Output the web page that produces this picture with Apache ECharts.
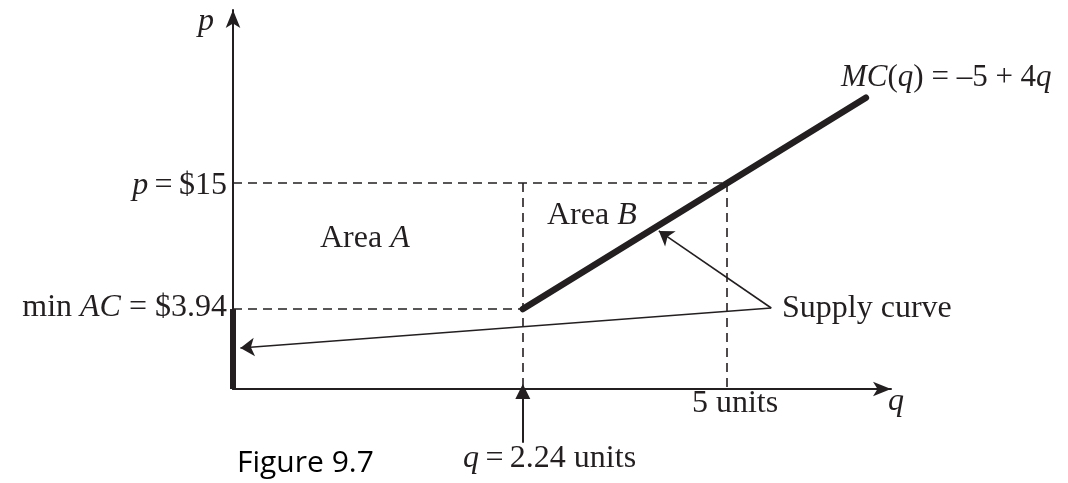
<!DOCTYPE html>
<html><head><meta charset="utf-8">
<script src="https://cdn.jsdelivr.net/npm/echarts@6/dist/echarts.min.js"></script>
<style>html,body{margin:0;padding:0;background:#fff}#c{width:1068px;height:483px}</style>
</head><body><div id="c"></div>
<script>
// ---- data ----
const qKink = 2.24;                 // q where MC = min AC
const qOutput = 5;                  // output at p = $15
const pMinAC = 3.94;                // min AC
const pPrice = 15;                  // market price
const mcSegment = [[2.24, 3.94], [6.88, 22.5]];   // MC(q) = -5 + 4q, drawn segment ends
const qRange = [-1.68, 7.22];       // schematic (broken) axis ranges
const pRange = [-3.08, 30.2];
// annotation arrows [from, to] in data units
const arrowToMC = [[5.6, 4.03], [4.08, 10.8]];
const arrowToBar = [[5.6, 4.03], [-1.58, 0.52]];
const arrowQ = [[2.24, -7.8], [2.24, -3.3]];

const INK = '#231f20';
const SERIF = "'Liberation Serif','Times New Roman',serif";
const FS = 32;

const chart = echarts.init(document.getElementById('c'), null, {renderer: 'canvas'});

const axisCommon = {
  type: 'value',
  axisLine: {show: true, onZero: false, symbol: ['none', 'arrow'], symbolSize: [11, 18],
             lineStyle: {color: INK, width: 2}},
  axisTick: {show: false}, axisLabel: {show: false}, splitLine: {show: false}
};

const dashes = [
  [[qRange[0], pPrice], [qOutput, pPrice]],
  [[qOutput, pPrice], [qOutput, pRange[0]]],
  [[qRange[0], pMinAC], [qKink, pMinAC]],
  [[qKink, pPrice], [qKink, pRange[0]]]
];

function mkRich(fs) {
  return {
    i: {fontStyle: 'italic', fontFamily: SERIF, fontSize: fs, fill: INK},
    n: {fontFamily: SERIF, fontSize: fs, fill: INK}
  };
}
function txt(x, y, text, align, fs) {
  fs = fs || FS;
  return {type: 'text', x: x, y: y, silent: true,
    style: {text: text, rich: mkRich(fs), font: fs + 'px ' + SERIF, fill: INK,
            align: align || 'left', verticalAlign: 'middle'}};
}

chart.setOption({
  animation: false,
  backgroundColor: '#fff',
  grid: {left: 233, right: 177, top: 10, bottom: 94},
  xAxis: Object.assign({}, axisCommon, {min: qRange[0], max: qRange[1]}),
  yAxis: Object.assign({}, axisCommon, {min: pRange[0], max: pRange[1]}),
  series: [
    {type: 'lines', coordinateSystem: 'cartesian2d', clip: false, silent: true,
     lineStyle: {color: INK, width: 1.6, type: [9, 6], opacity: 1},
     data: dashes.map(c => ({coords: c}))},
    {type: 'line', clip: false, silent: true, symbol: 'none',
     lineStyle: {color: INK, width: 6.5, cap: 'round'},
     data: mcSegment},
    {type: 'line', clip: false, silent: true, symbol: 'none',
     lineStyle: {color: INK, width: 6, cap: 'butt'},
     data: [[qRange[0], pRange[0]], [qRange[0], pMinAC]]},
    {type: 'lines', coordinateSystem: 'cartesian2d', clip: false, silent: true,
     symbol: ['none', 'arrow'], symbolSize: 14,
     lineStyle: {color: INK, width: 1.6, opacity: 1},
     data: [{coords: arrowToMC}, {coords: arrowToBar}]},
    {type: 'lines', coordinateSystem: 'cartesian2d', clip: false, silent: true,
     symbol: ['none', 'triangle'], symbolSize: 15,
     lineStyle: {color: INK, width: 2, opacity: 1},
     data: [{coords: arrowQ}]}
  ],
  graphic: [
    txt(206, 22, '{i|p}', 'center'),
    txt(841, 78, '{i|MC}{n|(}{i|q}{n|) = –5 + 4}{i|q}', 'left', 31),
    txt(227, 186, '{i|p}{n|\u2009=\u2009$15}', 'right'),
    txt(227, 308, '{n|min }{i|AC}{n| = $3.94}', 'right'),
    txt(320, 239, '{n|Area }{i|A}'),
    txt(547, 216, '{n|Area }{i|B}'),
    txt(782, 309, '{n|Supply curve}'),
    txt(735, 404, '{n|5 units}', 'center'),
    txt(896, 402, '{i|q}', 'center'),
    txt(463, 459, '{i|q}{n|\u2009=\u20092.24 units}'),
    {type: 'text', x: 237, y: 463, silent: true,
     style: {text: 'Figure 9.7', font: "30px 'Open Sans','Noto Sans',sans-serif", fill: '#000',
             align: 'left', verticalAlign: 'middle'}}
  ]
});
</script>
</body></html>
